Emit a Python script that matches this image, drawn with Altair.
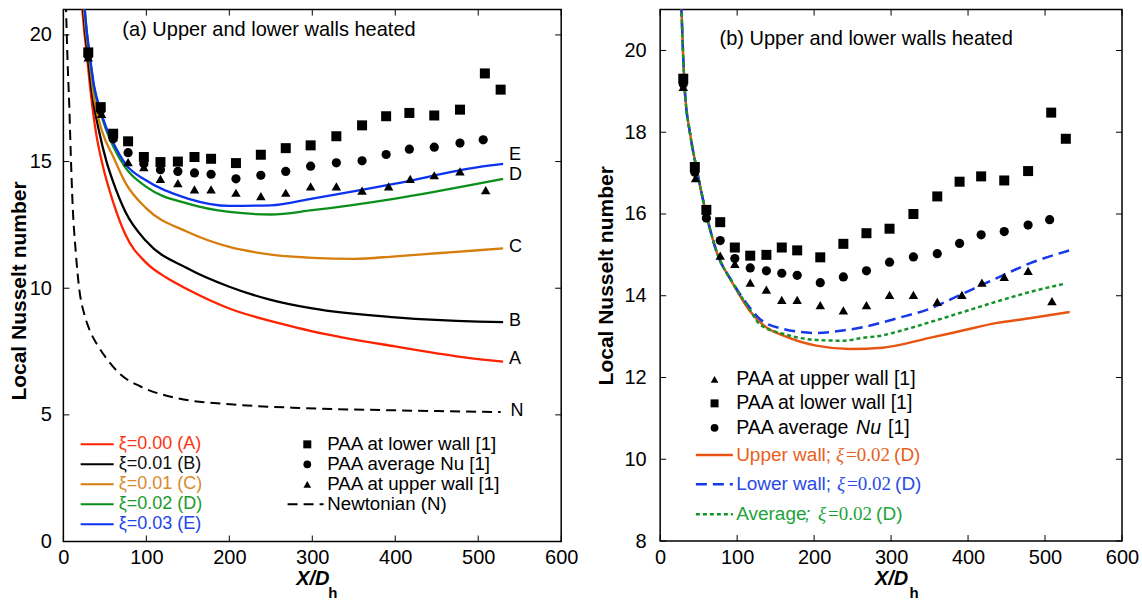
import altair as alt
import pandas as pd

SANS = "Liberation Sans"
SERIF = "Liberation Serif"

# ---------------- experimental data, PAA [1] (same in both panels) ----------------
paa_lower_x = [30, 45, 60, 78, 97, 117, 138, 158, 178, 208, 238, 268, 298, 329, 360, 389, 417, 447, 478, 508, 527]
paa_lower_nu = [19.31, 17.15, 16.10, 15.80, 15.18, 14.98, 15.00, 15.18, 15.11, 14.94, 15.27, 15.53,
                15.64, 16.00, 16.43, 16.79, 16.92, 16.82, 17.05, 18.48, 17.84]
paa_avg_x = [30, 45, 60, 78, 97, 117, 138, 158, 178, 208, 238, 268, 298, 329, 360, 389, 417, 447, 478, 506]
paa_avg_nu = [19.18, 17.02, 15.90, 15.35, 14.91, 14.68, 14.61, 14.55, 14.50, 14.32, 14.46, 14.61,
              14.82, 14.95, 15.03, 15.28, 15.49, 15.57, 15.73, 15.86]
paa_upper_x = [30, 46, 60, 78, 97, 117, 138, 158, 178, 208, 238, 268, 298, 329, 360, 392, 418, 447, 478, 509]
paa_upper_nu = [19.11, 16.88, 15.96, 14.98, 14.78, 14.32, 14.15, 13.90, 13.90, 13.77, 13.64, 13.77,
                14.02, 14.02, 13.85, 14.02, 14.32, 14.46, 14.61, 13.87]

# ---------------- panel (a) model curves ----------------
a_x = [22, 25, 28, 33, 39, 47, 60, 75, 100, 125, 150, 200, 262, 300, 400, 500, 530]
a_y = [21.3, 20.2, 19.3, 17.7, 16.2, 14.9, 13.4, 12.1, 11.0, 10.4, 9.95, 9.2, 8.6, 8.3, 7.7, 7.2, 7.1]
b_x = [23, 26, 29, 35, 43, 52, 60, 75, 100, 150, 200, 250, 300, 400, 500, 530]
b_y = [21.3, 20.2, 19.3, 17.6, 16.2, 15.0, 14.2, 13.0, 11.85, 10.78, 10.06, 9.54, 9.2, 8.85, 8.68, 8.66]
c_x = [24, 27, 30, 37, 47, 60, 75, 100, 150, 200, 250, 300, 350, 400, 450, 500, 530]
c_y = [21.3, 20.2, 19.4, 17.5, 16.16, 15.2, 14.15, 13.15, 12.22, 11.63, 11.33, 11.2, 11.16, 11.26, 11.38, 11.5, 11.57]
d_x = [25, 28, 31, 37, 45, 51, 60, 75, 100, 150, 200, 250, 300, 400, 500, 530]
d_y = [21.3, 20.2, 19.35, 17.9, 16.9, 16.3, 15.6, 14.75, 14.0, 13.34, 13.01, 12.91, 13.08, 13.54, 14.13, 14.32]
e_x = [25, 28, 31, 37, 45, 51, 60, 75, 100, 150, 200, 250, 300, 400, 500, 530]
e_y = [21.3, 20.2, 19.4, 18.0, 17.0, 16.4, 15.75, 14.9, 14.25, 13.54, 13.25, 13.27, 13.54, 14.13, 14.78, 14.91]
n_x = [3, 5, 7, 9, 11, 15, 19, 25, 31, 41, 55, 69, 93, 137, 205, 286, 400, 527]
n_y = [21.3, 19.0, 17.3, 15.2, 13.4, 11.4, 10.0, 9.0, 8.4, 7.76, 7.1, 6.59, 6.12, 5.66, 5.41, 5.27, 5.18, 5.11]

end_labels = ["E", "D", "C", "B", "A", "N"]
end_label_y = [15.26, 14.47, 11.63, 8.72, 7.21, 5.14]
end_label_x = [537, 537, 537, 537, 537, 539]

# ---------------- panel (b) model curves ----------------
up_x = [27.5, 31.7, 39, 46.8, 59.7, 72.7, 94.4, 116, 137.7, 159.4, 202.6, 246, 289, 350, 393, 436, 480, 532]
up_y = [21.1, 19.12, 17.95, 17.16, 16.01, 15.11, 14.3, 13.64, 13.23, 13.03, 12.78, 12.70, 12.73, 12.97, 13.15, 13.33, 13.45, 13.6]
lo_x = [27.5, 31.7, 39, 46.8, 59.7, 72.7, 94.4, 116, 129, 159.4, 202.6, 237, 263, 289, 306, 350, 393, 436, 480, 532]
lo_y = [21.1, 19.12, 17.95, 17.16, 16.01, 15.11, 14.32, 13.72, 13.44, 13.19, 13.09, 13.15, 13.23, 13.35, 13.44, 13.68, 14.05, 14.42, 14.79, 15.11]
av_x = [27.5, 31.7, 39, 46.8, 59.7, 72.7, 94.4, 116, 129, 159.4, 202.6, 237, 263, 289, 306, 350, 393, 436, 480, 527]
av_y = [21.1, 19.12, 17.95, 17.16, 16.01, 15.11, 14.31, 13.68, 13.31, 13.07, 12.92, 12.9, 12.97, 13.03, 13.11, 13.35, 13.6, 13.85, 14.09, 14.3]

# ---------------- texts ----------------
panel_titles = ["(a) Upper and lower walls heated", "(b) Upper and lower walls heated"]
y_title = "Local Nusselt number"
x_title = "X/D"
x_sub = "h"
left_legend_labels = ["ξ=0.00 (A)", "ξ=0.01 (B)", "ξ=0.01 (C)", "ξ=0.02 (D)", "ξ=0.03 (E)"]
left_legend_text_colors = ["#ff3311", "#111111", "#d98a2b", "#1a9a2a", "#2244ee"]
curve_colors = ["#ff2200", "#000000", "#d67d0c", "#0a8f1a", "#0a32f0"]
paa_labels_a = ["PAA at lower wall [1]", "PAA average Nu [1]", "PAA at upper wall [1]"]
newtonian_label = "Newtonian (N)"
paa_labels_b = ["PAA at upper wall [1]", "PAA at lower wall [1]", "PAA average "]
b_colors = ["#e85512", "#1538e8", "#14932a"]
b_text_colors = ["#e8601c", "#2a4ae6", "#22a33a"]
b_names = ["Upper wall;", "Lower wall;", "Average"]

x_ticks = [0, 100, 200, 300, 400, 500, 600]
y_ticks_a = [0, 5, 10, 15, 20]
y_ticks_b = [8, 10, 12, 14, 16, 18, 20]

one = pd.DataFrame({"k": [0]})
TICK = 6


def enc(xs, ys):
    return dict(x=alt.X("x:Q", scale=xs, axis=None), y=alt.Y("y:Q", scale=ys, axis=None))


def line(xv, yv, xs, ys, color, width=2.2, dash=None):
    kw = dict(color=color, strokeWidth=width, clip=True, interpolate="monotone")
    if dash is not None:
        kw["strokeDash"] = dash
    return alt.Chart(pd.DataFrame({"x": xv, "y": yv})).mark_line(**kw).encode(**enc(xs, ys))


def markers(xv, yv, xs, ys, shape, size):
    return alt.Chart(pd.DataFrame({"x": xv, "y": yv})).mark_point(
        shape=shape, filled=True, size=size, color="black", opacity=1
    ).encode(**enc(xs, ys))


def axes(xs, ys, yvals, ytitle_pad, ylabel_pad, W, H, title_y=None):
    """Labels/titles via the library axes; inward ticks as rules at the tick values."""
    df = pd.DataFrame({"x": [300], "y": [yvals[1]]})
    left_kw = dict(orient="left", values=yvals, format="d", grid=False, domain=False, ticks=False,
                   labelFont=SANS, labelFontSize=20, labelColor="black", labelPadding=ylabel_pad,
                   labelFlush=False, labelOverlap=False, title=y_title, titleFont=SANS,
                   titleFontSize=21, titleFontWeight="bold", titleColor="black",
                   titlePadding=ytitle_pad)
    if title_y is not None:
        left_kw["titleY"] = title_y
    main = alt.Chart(df).mark_point(opacity=0).encode(
        x=alt.X("x:Q", scale=xs, axis=alt.Axis(
            orient="bottom", values=x_ticks, format="d", grid=False, domain=False, ticks=False,
            labelFont=SANS, labelFontSize=20, labelColor="black", labelPadding=6,
            labelFlush=False, labelOverlap=False, title=x_title, titleFont=SANS,
            titleFontSize=20, titleFontStyle="italic", titleFontWeight="bold",
            titleColor="black", titlePadding=1)),
        y=alt.Y("y:Q", scale=ys, axis=alt.Axis(**left_kw)),
    )
    xt = alt.Chart(pd.DataFrame({"x": x_ticks})).mark_rule(color="black", strokeWidth=1)
    yt = alt.Chart(pd.DataFrame({"y": yvals})).mark_rule(color="black", strokeWidth=1)
    xenc = alt.X("x:Q", scale=xs, axis=None)
    yenc = alt.Y("y:Q", scale=ys, axis=None)
    return [
        main,
        xt.encode(x=xenc, y=alt.value(H), y2=alt.value(H - TICK)),
        xt.encode(x=xenc, y=alt.value(0), y2=alt.value(TICK)),
        yt.encode(y=yenc, x=alt.value(0), x2=alt.value(TICK)),
        yt.encode(y=yenc, x=alt.value(W - TICK), x2=alt.value(W)),
    ]


def txt(s, x, y, size=18, color="black", font=SANS, style="normal", weight="normal"):
    return alt.Chart(pd.DataFrame({"t": [s]})).mark_text(
        align="left", baseline="middle", font=font, fontSize=size, fontStyle=style,
        fontWeight=weight, color=color
    ).encode(x=alt.value(x), y=alt.value(y), text="t:N")


def seg(x1, x2, y, color, width=2.0, dash=None):
    kw = dict(color=color, strokeWidth=width)
    if dash is not None:
        kw["strokeDash"] = dash
    return alt.Chart(one).mark_rule(**kw).encode(x=alt.value(x1), x2=alt.value(x2), y=alt.value(y))


def sym(shape, x, y, size):
    return alt.Chart(one).mark_point(shape=shape, filled=True, size=size, color="black",
                                     opacity=1).encode(x=alt.value(x), y=alt.value(y))


# ======================= panel (a) =======================
WA, HA = 498, 532.1
xs_a = alt.Scale(domain=[0, 600], nice=False, zero=False)
ys_a = alt.Scale(domain=[0, 21], nice=False, zero=False)

layers_a = axes(xs_a, ys_a, y_ticks_a, 0, 12, WA, HA, title_y=281)
layers_a.append(line(n_x, n_y, xs_a, ys_a, "black", 2.0, [10, 6]))
for xv, yv, col in zip([a_x, b_x, c_x, d_x, e_x], [a_y, b_y, c_y, d_y, e_y], curve_colors):
    layers_a.append(line(xv, yv, xs_a, ys_a, col, 2.3))
layers_a.append(markers(paa_lower_x, paa_lower_nu, xs_a, ys_a, "square", 100))
layers_a.append(markers(paa_avg_x, paa_avg_nu, xs_a, ys_a, "circle", 85))
layers_a.append(markers(paa_upper_x, paa_upper_nu, xs_a, ys_a, "triangle-up", 90))
layers_a.append(
    alt.Chart(pd.DataFrame({"x": end_label_x, "y": end_label_y, "t": end_labels}))
    .mark_text(align="left", baseline="middle", font=SANS, fontSize=18, color="black")
    .encode(x=alt.X("x:Q", scale=xs_a, axis=None), y=alt.Y("y:Q", scale=ys_a, axis=None), text="t:N")
)
layers_a.append(txt(panel_titles[0], 59, 20.6, size=20))
for i, (lab, tc, lc) in enumerate(zip(left_legend_labels, left_legend_text_colors, curve_colors)):
    yy = 434.9 + 20 * i
    layers_a.append(seg(17.3, 50.3, yy, lc, 2.0))
    layers_a.append(txt(lab, 55.3, yy, size=18, color=tc))
for i, (lab, shp, sz) in enumerate(zip(paa_labels_a, ["square", "circle", "triangle-up"], [64, 60, 60])):
    yy = 434.9 + 20 * i
    layers_a.append(sym(shp, 244, yy, sz))
    layers_a.append(txt(lab, 264, yy, size=18.7))
layers_a.append(seg(224.3, 260.3, 494.9, "black", 2.0, [10, 6]))
layers_a.append(txt(newtonian_label, 264, 494.9, size=18.7))
layers_a.append(txt(x_sub, 265, 583.5, size=15, weight="bold"))

panel_a = alt.layer(*layers_a).resolve_axis(x="independent", y="independent").properties(
    width=WA, height=HA)

# ======================= panel (b) =======================
WB, HB = 462, 531.6
xs_b = alt.Scale(domain=[0, 600], nice=False, zero=False)
ys_b = alt.Scale(domain=[8, 21], nice=False, zero=False)

layers_b = axes(xs_b, ys_b, y_ticks_b, 7, 14, WB, HB)
layers_b.append(line(up_x, up_y, xs_b, ys_b, b_colors[0], 2.5))
layers_b.append(line(lo_x, lo_y, xs_b, ys_b, b_colors[1], 2.5, [11, 6]))
layers_b.append(line(av_x, av_y, xs_b, ys_b, b_colors[2], 2.5, [4, 3]))
layers_b.append(markers(paa_lower_x, paa_lower_nu, xs_b, ys_b, "square", 100))
layers_b.append(markers(paa_avg_x, paa_avg_nu, xs_b, ys_b, "circle", 85))
layers_b.append(markers(paa_upper_x, paa_upper_nu, xs_b, ys_b, "triangle-up", 90))
layers_b.append(txt(panel_titles[1], 59.4, 29.9, size=20))
for lab, shp, yy, sz in zip(paa_labels_b, ["triangle-up", "square", "circle"],
                            [369.9, 393.9, 418.3], [60, 64, 60]):
    layers_b.append(sym(shp, 54.4, yy, sz))
    layers_b.append(txt(lab, 76, yy, size=19.5))
layers_b.append(txt("Nu", 196, 418.3, size=19.5, style="italic"))
layers_b.append(txt("[1]", 228, 418.3, size=19.5))
dashes = [None, [11, 6], [4, 3]]
rows_b = [445.6, 474.9, 504.9]
xi_x = [176, 177, 158]
for name, col, tcol, dsh, yy, xx in zip(b_names, b_colors, b_text_colors, dashes, rows_b, xi_x):
    layers_b.append(seg(35.7, 72.7, yy, col, 2.5, dsh))
    layers_b.append(txt(name, 76, yy, size=19, color=tcol))
    layers_b.append(txt("ξ", xx, yy, size=19, color=tcol, font=SERIF, style="italic"))
    layers_b.append(txt("=0.02", xx + 10, yy, size=19, color=tcol, font=SERIF))
    layers_b.append(txt("(D)", xx + 58, yy, size=19, color=tcol))
layers_b.append(txt(";", 145, 504.9, size=19, color=b_text_colors[2], style="italic"))
layers_b.append(txt(x_sub, 249.4, 583.5, size=15, weight="bold"))

panel_b = alt.layer(*layers_b).resolve_axis(x="independent", y="independent").properties(
    width=WB, height=HB)

chart = alt.hconcat(panel_a, panel_b, spacing=16).configure_view(
    stroke="black", strokeWidth=1.5
).properties(padding={"left": 7.4, "top": 7.5, "right": 2, "bottom": 0})

chart.save("out.html", embed_options={"renderer": "svg", "actions": False})
